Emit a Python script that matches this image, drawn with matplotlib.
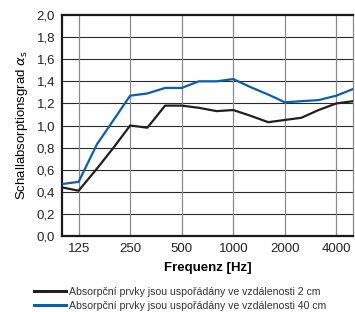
import matplotlib.pyplot as plt
from matplotlib.ticker import FixedLocator, NullLocator
from matplotlib.lines import Line2D

plt.rcParams['font.family'] = ['Liberation Sans', 'DejaVu Sans']

# third-octave band centre frequencies
freq = [100, 125, 160, 200, 250, 315, 400, 500, 630, 800,
        1000, 1250, 1600, 2000, 2500, 3150, 4000, 5000]
alpha_2cm = [0.44, 0.41, 0.61, 0.80, 1.00, 0.98, 1.18, 1.18, 1.16, 1.13,
             1.14, 1.09, 1.03, 1.05, 1.07, 1.14, 1.20, 1.22]
alpha_40cm = [0.47, 0.49, 0.83, 1.05, 1.27, 1.29, 1.34, 1.34, 1.40, 1.40,
              1.42, 1.35, 1.28, 1.21, 1.22, 1.23, 1.27, 1.33]
xticks = [125, 250, 500, 1000, 2000, 4000]
yticks = [0.0, 0.2, 0.4, 0.6, 0.8, 1.0, 1.2, 1.4, 1.6, 1.8, 2.0]
labels = ['Absorpční prvky jsou uspořádány ve vzdálenosti 2 cm',
          'Absorpční prvky jsou uspořádány ve vzdálenosti 40 cm']
colors = ['#231f20', '#0a5fae']

fig = plt.figure(figsize=(3.55, 3.12), dpi=100)
ax = fig.add_axes([62 / 355, 1 - 236 / 312, 291 / 355, 221 / 312])

ax.plot(freq, alpha_2cm, color=colors[0], lw=1.6, zorder=3)
ax.plot(freq, alpha_40cm, color=colors[1], lw=1.6, zorder=3)

ax.set_xscale('log')
ax.set_xlim(100, 5000)
ax.set_ylim(0, 2.0)
ax.xaxis.set_major_locator(FixedLocator(xticks))
ax.xaxis.set_minor_locator(NullLocator())
ax.set_xticklabels([str(t) for t in xticks])
ax.set_yticks(yticks)
ax.set_yticklabels([f'{t:.1f}'.replace('.', ',') for t in yticks])
ax.tick_params(length=0, labelsize=9.5, colors='#222222', pad=5)

for y in yticks[1:-1]:
    ax.axhline(y, color='#2a2a2a', lw=0.8, zorder=1)
for x in xticks:
    ax.axvline(x, color='#8a8a8a', lw=0.9, zorder=1)

for s in ['left', 'bottom', 'top']:
    ax.spines[s].set_linewidth(1.6)
    ax.spines[s].set_color('#1a1a1a')
ax.spines['right'].set_linewidth(0.9)
ax.spines['right'].set_color('#8a8a8a')

ax.set_xlabel('Frequenz [Hz]', fontsize=9.5, fontweight='bold', labelpad=5)
ax.set_ylabel(r'Schallabsorptionsgrad $\alpha_\mathrm{s}$', fontsize=9.5, labelpad=5)

handles = [Line2D([], [], color=c, lw=2.2) for c in colors]
fig.legend(handles, labels, loc='lower left', bbox_to_anchor=(27 / 355, -0.02),
           frameon=False, fontsize=7.6, handlelength=3.0, handletextpad=0.3,
           labelspacing=0.4, labelcolor='#333333', borderaxespad=0.3)

fig.savefig('out.png', dpi=100)
